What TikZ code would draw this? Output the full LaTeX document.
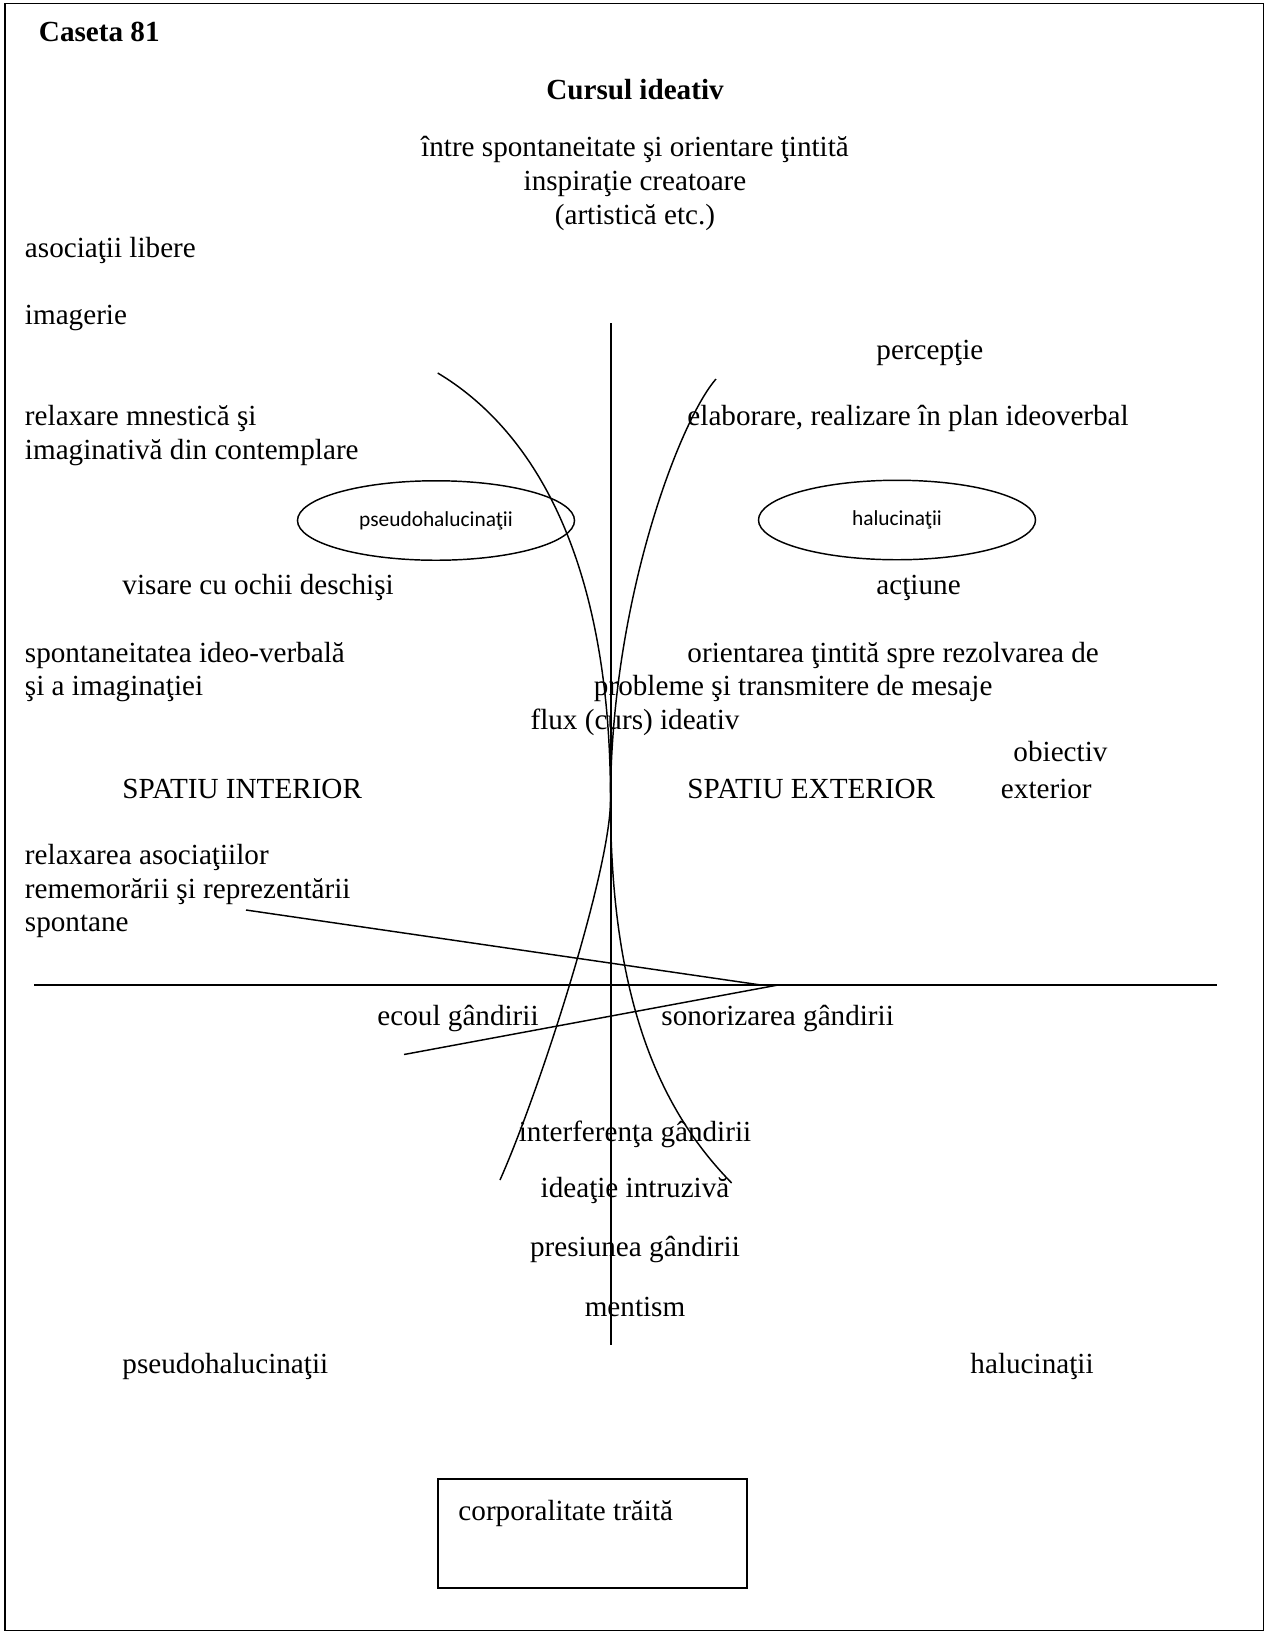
\documentclass[tikz,border=0pt]{standalone}
\usepackage{fontspec}
\setmainfont{Liberation Serif}
\newfontfamily\calibrifont{Carlito}
\usetikzlibrary{shapes.geometric}
\begin{document}
\begin{tikzpicture}[x=0.4115pt,y=-0.4115pt,
  txt/.style={inner sep=0pt, anchor=base west, font=\fontsize{12}{14}\selectfont},
  ctxt/.style={inner sep=0pt, anchor=base, font=\fontsize{12}{14}\selectfont},
  btxt/.style={inner sep=0pt, font=\fontsize{12}{14}\selectfont\bfseries},
  oval/.style={draw, ellipse, line width=0.6pt, inner sep=0pt,
               minimum width=114pt, minimum height=32.7pt,
               font=\calibrifont\fontsize{8.8}{10}\selectfont},
  ln/.style={line width=0.6pt}]

\useasboundingbox (0,0) rectangle (1265,1632);
% outer frame
\draw[line width=0.8pt] (5,3.5) rectangle (1263.5,1630.5);

% headings
\node[btxt, anchor=base west] (caseta) at (38.5,41) {Caseta 81};
\node[btxt, anchor=base] (cursul) at (635,99) {Cursul ideativ};
\node[ctxt] (intre) at (635,156) {între spontaneitate şi orientare ţintită};
\node[ctxt] (inspir) at (635,190) {inspiraţie creatoare};
\node[ctxt] (artist) at (635,224) {(artistică etc.)};

% left column
\node[txt] (asoc) at (24.5,257) {asociaţii libere};
\node[txt] (imag) at (24.5,324) {imagerie};
\node[txt] (relmA) at (24.5,425.5) {relaxare mnestică şi};
\node[txt] (relmB) at (24.5,459) {imaginativă din contemplare};
\node[txt] (visare) at (122,594) {visare cu ochii deschişi};
\node[txt] (spontA) at (24.5,662) {spontaneitatea ideo-verbală};
\node[txt] (spontB) at (24.5,695) {şi a imaginaţiei};
\node[txt] (spint) at (122,798) {SPATIU INTERIOR};
\node[txt] (relaA) at (24.5,864) {relaxarea asociaţiilor};
\node[txt] (relaB) at (24.5,898) {rememorării şi reprezentării};
\node[txt] (relaC) at (24.5,931.5) {spontane};

% right column
\node[txt] (percep) at (876,359) {percepţie};
\node[txt] (elab) at (687,425.5) {elaborare, realizare în plan ideoverbal};
\node[txt] (actiune) at (876,594) {acţiune};
\node[txt] (orientA) at (687,662) {orientarea ţintită spre rezolvarea de};
\node[txt] (orientB) at (593.5,695) {probleme şi transmitere de mesaje};
\node[ctxt] (flux) at (635,729) {flux (curs) ideativ};
\node[txt] (obiectiv) at (1013,761) {obiectiv};
\node[txt] (spext) at (687,798) {SPATIU EXTERIOR};
\node[txt] (exterior) at (1000.5,798) {exterior};

% ellipses
\node[oval] (pseudoOval) at (436,520.5) {pseudohalucinaţii};
\node[oval] (halOval) at (897,520) {halucinaţii};

% lower labels
\node[txt] (ecoul) at (377,1025) {ecoul gândirii};
\node[txt] (sonor) at (661,1025) {sonorizarea gândirii};
\node[ctxt] (interf) at (635,1141) {interferenţa gândirii};
\node[ctxt] (ideatie) at (635,1197) {ideaţie intruzivă};
\node[ctxt] (presiune) at (635,1256) {presiunea gândirii};
\node[ctxt] (mentism) at (635,1316) {mentism};
\node[txt] (pseudo) at (122,1373) {pseudohalucinaţii};
\node[txt] (haluc) at (970,1373) {halucinaţii};

% box at the bottom
\node[draw, line width=0.8pt, inner sep=0pt, anchor=north west,
      minimum width=127.3pt, minimum height=44.7pt] (corpbox) at (436.7,1478) {};
\node[txt] (corptext) at (458,1520) {corporalitate trăită};

% axes
\coordinate (axTop) at (611,323);
\coordinate (axBot) at (611,1345);
\coordinate (hzL) at (34,985);
\coordinate (hzR) at (1217,985);
\draw[ln] (axTop) -- (axBot);
\draw[ln] (hzL) -- (hzR);

% converging lines
\coordinate (upStart) at (246,910);
\coordinate (upEnd) at (761,985);
\coordinate (loStart) at (778,985);
\coordinate (loEnd) at (404,1054.5);
\draw[ln] (upStart) -- (upEnd);
\draw[ln] (loStart) -- (loEnd);

% crossing curves, pinched at the waist on the axis
\coordinate (waist) at (610.5,800);
\coordinate (lTop) at (437.7,373);
\coordinate (lBot) at (731.7,1183);
\coordinate (rTop) at (716,379);
\coordinate (rBot) at (500,1180);
\draw[ln] (lTop) .. controls (528,427) and (610.5,550) .. (waist)
                 .. controls (610.5,1000) and (660,1110) .. (lBot);
\draw[ln] (rTop) .. controls (680,420) and (611,600) .. (waist)
                 .. controls (610.5,870) and (540,1090) .. (rBot);
\end{tikzpicture}
\end{document}
